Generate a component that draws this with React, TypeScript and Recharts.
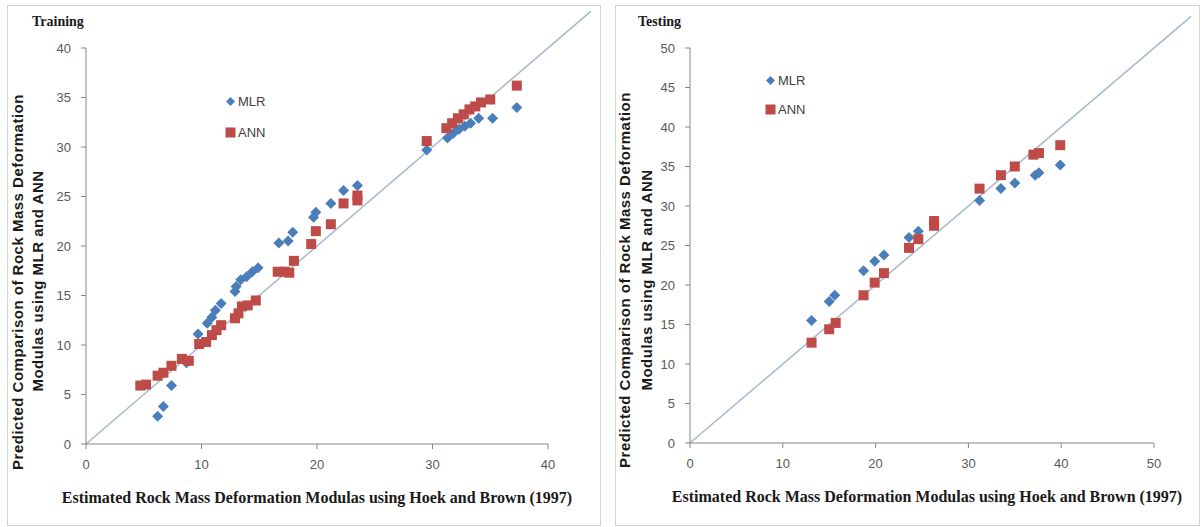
import { ScatterChart, Scatter, XAxis, YAxis, ReferenceLine, Legend } from 'recharts';

// [estimated (Hoek & Brown), predicted]
const trainingMLR: [number, number][] = [
  [6.2, 2.8], [6.7, 3.8], [7.4, 5.9], [8.7, 8.2], [9.7, 11.1], [10.5, 12.2], [10.9, 12.8],
  [11.2, 13.5], [11.7, 14.2], [12.9, 15.4], [13.0, 15.9], [13.4, 16.6], [13.9, 16.9],
  [14.4, 17.4], [14.9, 17.8], [16.7, 20.3], [17.5, 20.5], [17.9, 21.4], [19.7, 22.9],
  [19.9, 23.4], [21.2, 24.3], [22.3, 25.6], [23.5, 26.1], [29.5, 29.7], [31.3, 30.9],
  [31.8, 31.4], [32.3, 31.8], [32.8, 32.1], [33.3, 32.4], [34.0, 32.9], [35.2, 32.9], [37.3, 34.0],
];

const trainingANN: [number, number][] = [
  [4.7, 5.9], [5.2, 6.0], [6.2, 6.9], [6.7, 7.2], [7.4, 7.9], [8.3, 8.6], [8.9, 8.4],
  [9.8, 10.1], [10.4, 10.3], [10.9, 11.0], [11.3, 11.5], [11.7, 12.0], [12.9, 12.7],
  [13.2, 13.2], [13.5, 13.9], [14.0, 14.0], [14.7, 14.5], [16.6, 17.4], [17.2, 17.4],
  [17.6, 17.3], [18.0, 18.5], [19.5, 20.2], [19.9, 21.5], [21.2, 22.2], [22.3, 24.3],
  [23.5, 24.6], [23.5, 25.1], [29.5, 30.6], [31.2, 31.9], [31.7, 32.4], [32.2, 32.9],
  [32.7, 33.3], [33.2, 33.8], [33.7, 34.1], [34.2, 34.5], [35.0, 34.8], [37.3, 36.2],
];

const testingMLR: [number, number][] = [
  [13.1, 15.5], [15.0, 17.9], [15.6, 18.7], [18.7, 21.8], [19.9, 23.0], [20.9, 23.8],
  [23.6, 26.0], [24.6, 26.8], [26.3, 27.9], [31.2, 30.7], [33.5, 32.2], [35.0, 32.9],
  [37.2, 33.9], [37.6, 34.2], [39.9, 35.2],
];

const testingANN: [number, number][] = [
  [13.1, 12.7], [15.0, 14.4], [15.7, 15.2], [18.7, 18.7], [19.9, 20.3], [20.9, 21.5],
  [23.6, 24.7], [24.6, 25.8], [26.3, 27.5], [26.3, 28.1], [31.2, 32.2], [33.5, 33.9],
  [35.0, 35.0], [37.0, 36.5], [37.6, 36.7], [39.9, 37.7],
];

const trainingXTicks = [0, 10, 20, 30, 40];
const trainingYTicks = [0, 5, 10, 15, 20, 25, 30, 35, 40];
const testingXTicks = [0, 10, 20, 30, 40, 50];
const testingYTicks = [0, 5, 10, 15, 20, 25, 30, 35, 40, 45, 50];

const BLUE = '#4a7ebb';
const RED = '#be4b48';
const SANS = '"Liberation Sans", Arial, sans-serif';
const SERIF = '"Liberation Serif", "Times New Roman", serif';

const toPoints = (rows: [number, number][]) => rows.map(([x, y]) => ({ x, y }));

const Diamond = (props: any) => {
  const { cx, cy } = props;
  const r = 5.5;
  return <path d={`M${cx},${cy - r}L${cx + r},${cy}L${cx},${cy + r}L${cx - r},${cy}Z`} fill={BLUE} />;
};

const Square = (props: any) => {
  const { cx, cy } = props;
  const s = 10;
  return <rect x={cx - s / 2} y={cy - s / 2} width={s} height={s} fill={RED} />;
};

const LegendBox = ({ rowHeight }: { rowHeight: number }) => (
  <div style={{ fontFamily: SANS, fontSize: 13, color: '#404040' }}>
    <div style={{ display: 'flex', alignItems: 'center', height: rowHeight }}>
      <svg width={11} height={11}><path d="M5.5,1L10,5.5L5.5,10L1,5.5Z" fill={BLUE} /></svg>
      <span style={{ marginLeft: 2 }}>MLR</span>
    </div>
    <div style={{ display: 'flex', alignItems: 'center', height: rowHeight }}>
      <svg width={11} height={11}><rect x={0.5} y={0.5} width={10} height={10} fill={RED} /></svg>
      <span style={{ marginLeft: 2 }}>ANN</span>
    </div>
  </div>
);

interface PanelProps {
  mlr: [number, number][];
  ann: [number, number][];
  xTicks: number[];
  yTicks: number[];
  max: number;
  lineEnd: number;
  width: number;
  margin: { top: number; right: number; bottom: number; left: number };
  legendPos: { left: number; top: number; row: number };
}

const Panel = (p: PanelProps) => (
  <ScatterChart width={p.width} height={527} margin={p.margin}>
    <XAxis
      type="number"
      dataKey="x"
      domain={[0, p.max]}
      ticks={p.xTicks}
      interval={0}
      tickSize={5}
      tickMargin={11}
      stroke="#868686"
      tick={{ fill: '#595959', fontSize: 13, fontFamily: SANS }}
      height={30}
    />
    <YAxis
      type="number"
      dataKey="y"
      domain={[0, p.max]}
      ticks={p.yTicks}
      interval={0}
      tickSize={5}
      tickMargin={10}
      stroke="#868686"
      tick={{ fill: '#595959', fontSize: 13, fontFamily: SANS }}
      width={40}
    />
    <ReferenceLine
      segment={[{ x: 0, y: 0 }, { x: p.lineEnd, y: p.lineEnd }]}
      stroke="#a7b9cb"
      strokeWidth={1.5}
      ifOverflow="visible"
    />
    <Scatter name="MLR" data={toPoints(p.mlr)} shape={Diamond} isAnimationActive={false} />
    <Scatter name="ANN" data={toPoints(p.ann)} shape={Square} isAnimationActive={false} />
    <Legend
      layout="vertical"
      align="center"
      verticalAlign="middle"
      wrapperStyle={{ left: p.legendPos.left, top: p.legendPos.top, width: 'auto' }}
      content={() => <LegendBox rowHeight={p.legendPos.row} />}
    />
  </ScatterChart>
);

const rotated = (text: string, cx: number, cy: number) => (
  <div
    style={{
      position: 'absolute',
      left: cx,
      top: cy,
      transform: 'translate(-50%, -50%) rotate(-90deg)',
      whiteSpace: 'nowrap',
      fontFamily: SANS,
      fontWeight: 'bold',
      fontSize: 15,
      letterSpacing: 0.5,
      color: '#1a1a1a',
    }}
  >
    {text}
  </div>
);

const centered = (text: string, cx: number, cy: number) => (
  <div
    style={{
      position: 'absolute',
      left: cx,
      top: cy,
      transform: 'translate(-50%, -50%)',
      whiteSpace: 'nowrap',
      fontFamily: SERIF,
      fontWeight: 'bold',
      fontSize: 16,
      color: '#1a1a1a',
    }}
  >
    {text}
  </div>
);

const titleStyle = {
  position: 'absolute' as const,
  top: 14,
  fontFamily: SERIF,
  fontWeight: 'bold',
  fontSize: 14,
  color: '#1a1a1a',
};

const X_LABEL = 'Estimated Rock Mass Deformation Modulas using Hoek and Brown (1997)';
const Y_LABEL_1 = 'Predicted Comparison of Rock Mass Deformation';
const Y_LABEL_2 = 'Modulas using MLR and ANN';

export default function App() {
  return (
    <div style={{ position: 'absolute', left: 0, top: 0, width: 1202, height: 527, background: '#fff', overflow: 'hidden' }}>
      <div style={{ position: 'absolute', left: 7, top: 5, width: 592, height: 519, border: '1.5px solid #d3d3d3' }} />
      <div style={{ position: 'absolute', left: 615, top: 5, width: 583, height: 519, border: '1.5px solid #d3d3d3' }} />

      <div style={{ position: 'absolute', left: 0, top: 0 }}>
        <Panel
          mlr={trainingMLR}
          ann={trainingANN}
          xTicks={trainingXTicks}
          yTicks={trainingYTicks}
          max={40}
          lineEnd={43.7}
          width={600}
          margin={{ top: 48, right: 52, bottom: 53, left: 46 }}
          legendPos={{ left: 225, top: 86, row: 31 }}
        />
      </div>
      <div style={{ position: 'absolute', left: 610, top: 0 }}>
        <Panel
          mlr={testingMLR}
          ann={testingANN}
          xTicks={testingXTicks}
          yTicks={testingYTicks}
          max={50}
          lineEnd={54}
          width={592}
          margin={{ top: 48, right: 48, bottom: 54, left: 40 }}
          legendPos={{ left: 155, top: 66, row: 29 }}
        />
      </div>

      <div style={{ ...titleStyle, left: 32 }}>Training</div>
      <div style={{ ...titleStyle, left: 638 }}>Testing</div>

      {rotated(Y_LABEL_1, 17, 282)}
      {rotated(Y_LABEL_2, 37, 281)}
      {rotated(Y_LABEL_1, 624, 280)}
      {rotated(Y_LABEL_2, 646, 280)}

      {centered(X_LABEL, 317, 498)}
      {centered(X_LABEL, 927, 497)}
    </div>
  );
}
